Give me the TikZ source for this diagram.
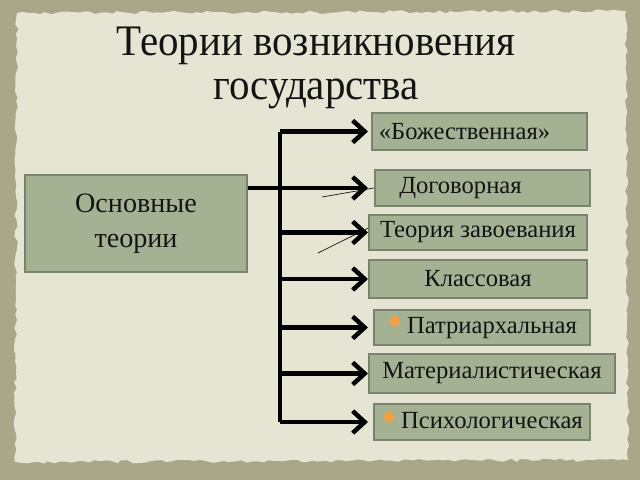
\documentclass[tikz,border=0pt]{standalone}
\usepackage{fontspec}
\setmainfont{Liberation Serif}
\usepackage{xcolor}
\usetikzlibrary{arrows.meta,positioning,calc,decorations.pathmorphing}
\definecolor{marco}{RGB}{168,167,136}
\definecolor{papel}{RGB}{230,228,210}
\definecolor{salvia}{RGB}{164,177,147}
\definecolor{bordesalvia}{RGB}{122,132,108}
\definecolor{tinta}{RGB}{20,20,20}
\definecolor{punto}{RGB}{240,160,70}
\newcommand{\vineta}{\textcolor{punto}{\raisebox{-0.3ex}{\fontsize{32}{32}\selectfont\textbullet}}\,}
\tikzset{
  teoria/.style={draw=bordesalvia,line width=1.6pt,fill=salvia,text=tinta,inner sep=0pt,
    font=\fontsize{17.5}{21}\selectfont},
  rama/.style={line width=3.2pt,-{Straight Barb[length=0.3cm,width=0.55cm]}},
  tronco/.style={line width=3.2pt},
  hilo/.style={line width=0.5pt,tinta}
}
\begin{document}
\begin{tikzpicture}[x=0.025cm,y=-0.025cm]
\fill[marco] (0,0) rectangle (640,480);
\fill[papel,decorate,decoration={random steps,segment length=4pt,amplitude=1.2pt}]
  (17,13) -- (626,11) -- (628,460) -- (15,462) -- cycle;
\useasboundingbox (0,0) rectangle (640,480);
\node[text=tinta,align=center,xscale=0.94,font=\fontsize{31}{31.5}\selectfont] (titulo) at (316,68)
{Теории возникновения\\государства};
\node[teoria,minimum width=5.55cm,minimum height=2.42cm,align=center,font=\fontsize{20}{25}\selectfont] (base) at (136,223.5)
{Основные\\теории};
\node[teoria,minimum width=5.38cm,minimum height=0.92cm] (b1) at (479.5,131.5) {«Божественная»\hspace*{0.75cm}};
\node[teoria,minimum width=5.38cm,minimum height=0.9cm] (b2) at (482.5,188) {Договорная\hspace*{1.1cm}};
\node[teoria,minimum width=5.45cm,minimum height=0.88cm] (b3) at (478,232.5) {Теория завоевания};
\node[teoria,minimum width=5.45cm,minimum height=0.95cm] (b4) at (478,279) {Классовая};
\node[teoria,minimum width=5.4cm,minimum height=0.88cm] (b5) at (482,327.5) {\vineta Патриархальная};
\node[teoria,minimum width=6.15cm,minimum height=0.98cm] (b6) at (492,373.5) {Материалистическая};
\node[teoria,minimum width=5.4cm,minimum height=0.9cm] (b7) at (482,422) {\vineta Психологическая};
\coordinate (eje) at (280,0);
\coordinate (punta) at (368,0);
\draw[tronco] (eje |- b1) -- (eje |- b7);
\draw[rama] (base.east |- b2) -- (punta |- b2);
\foreach \b in {b1,b3,b4,b5,b6,b7}
  \draw[rama] (eje |- \b) -- (punta |- \b);
\coordinate (h1) at (322,197);
\coordinate (h2) at (318,253);
\draw[hilo] (h1) -- (b2.west);
\draw[hilo] (h2) -- ([yshift=3pt]b3.west);
\end{tikzpicture}
\end{document}
